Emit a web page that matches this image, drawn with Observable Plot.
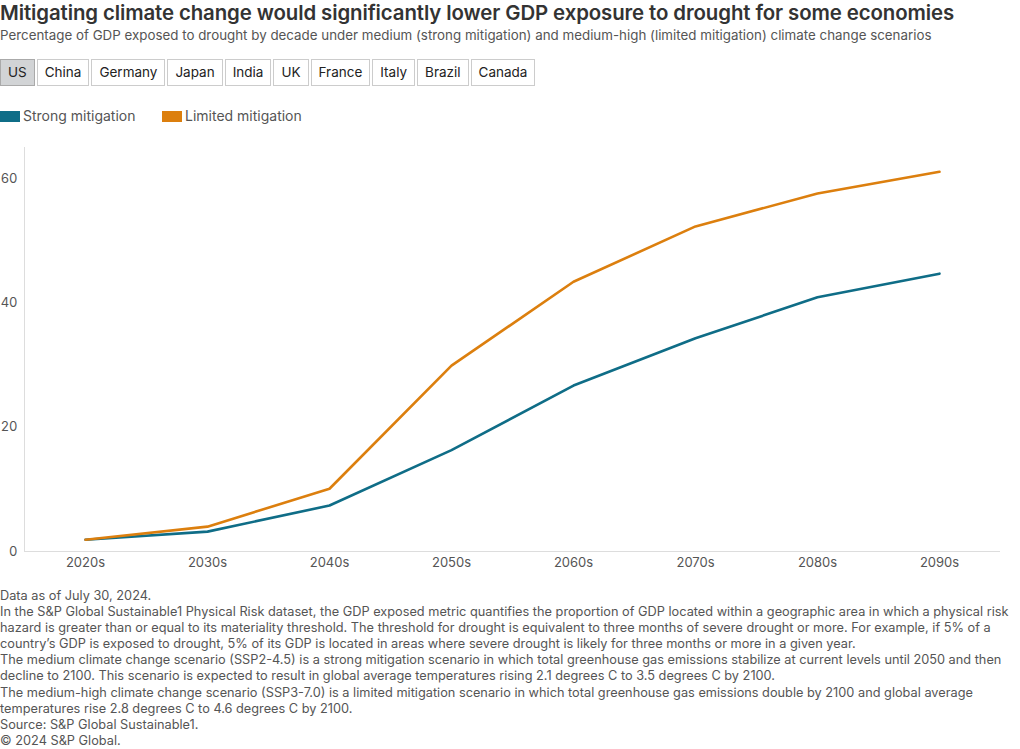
<!DOCTYPE html>
<html>
<head>
<meta charset="utf-8">
<script src="https://cdn.jsdelivr.net/npm/d3@7"></script>
<script src="https://cdn.jsdelivr.net/npm/@observablehq/plot@0.6"></script>
<style>
  html, body { margin: 0; padding: 0; background: #fff; }
  body { width: 1020px; height: 749px; position: relative; overflow: hidden; font-family: "Inter", "Roboto", sans-serif; color: #333; }
  #title { position: absolute; left: 0; top: 0; font-size: 20.4px; font-weight: 600; color: #333; white-space: nowrap; letter-spacing: -0.1px; }
  #subtitle { position: absolute; left: 0; top: 27px; font-size: 13.35px; color: #555; white-space: nowrap; }
  #buttons { position: absolute; left: 0; top: 59px; display: flex; gap: 2px; }
  #buttons div { box-sizing: border-box; height: 27px; border: 1px solid #ccc; background: #fff; font-size: 13.5px; line-height: 25px; padding: 0 7px; color: #222; }
  #buttons div.active { background: #d2d4d6; border-color: #aaa; }
  #legend { position: absolute; left: 0; top: 107px; font-size: 14px; color: #555; }
  #legend span.item { position: absolute; white-space: nowrap; }
  #legend span.sw { display: inline-block; width: 20px; height: 11px; vertical-align: -1px; margin-right: 3px; }
  #chart { position: absolute; left: 0; top: 140px; }
  #notes { position: absolute; left: 0; top: 588px; width: 1020px; font-family: "Inter", "Roboto", sans-serif; font-size: 12.75px; line-height: 16.1px; color: #555; }
  #notes div { white-space: nowrap; }
</style>
</head>
<body>
<div id="title">Mitigating climate change would significantly lower GDP exposure to drought for some economies</div>
<div id="subtitle">Percentage of GDP exposed to drought by decade under medium (strong mitigation) and medium-high (limited mitigation) climate change scenarios</div>
<div id="buttons"></div>
<div id="legend"></div>
<div id="chart"></div>
<div id="notes"></div>
<script>
const decades = ["2020s", "2030s", "2040s", "2050s", "2060s", "2070s", "2080s", "2090s"];
const strongMitigation = [1.9, 3.2, 7.4, 16.3, 26.7, 34.3, 40.9, 44.7];
const limitedMitigation = [1.9, 4.0, 10.1, 29.9, 43.4, 52.3, 57.6, 61.1];
const seriesNames = ["Strong mitigation", "Limited mitigation"];
const seriesColors = ["#0f6d87", "#dc7f0e"];
const countries = ["US", "China", "Germany", "Japan", "India", "UK", "France", "Italy", "Brazil", "Canada"];
const yTicks = [0, 20, 40, 60];
const noteLines = [
  "Data as of July 30, 2024.",
  "In the S&P Global Sustainable1 Physical Risk dataset, the GDP exposed metric quantifies the proportion of GDP located within a geographic area in which a physical risk",
  "hazard is greater than or equal to its materiality threshold. The threshold for drought is equivalent to three months of severe drought or more. For example, if 5% of a",
  "country’s GDP is exposed to drought, 5% of its GDP is located in areas where severe drought is likely for three months or more in a given year.",
  "The medium climate change scenario (SSP2-4.5) is a strong mitigation scenario in which total greenhouse gas emissions stabilize at current levels until 2050 and then",
  "decline to 2100. This scenario is expected to result in global average temperatures rising 2.1 degrees C to 3.5 degrees C by 2100.",
  "The medium-high climate change scenario (SSP3-7.0) is a limited mitigation scenario in which total greenhouse gas emissions double by 2100 and global average",
  "temperatures rise 2.8 degrees C to 4.6 degrees C by 2100.",
  "Source: S&P Global Sustainable1.",
  "© 2024 S&P Global."
];

// buttons
const btns = document.getElementById("buttons");
countries.forEach((c, i) => {
  const d = document.createElement("div");
  d.textContent = c;
  if (i === 0) d.className = "active";
  btns.appendChild(d);
});

// legend
const legend = document.getElementById("legend");
const legendX = [0, 162];
seriesNames.forEach((s, i) => {
  const it = document.createElement("span");
  it.className = "item";
  it.style.left = legendX[i] + "px";
  it.innerHTML = `<span class="sw" style="background:${seriesColors[i]}"></span>${s}`;
  legend.appendChild(it);
});

// notes
const notes = document.getElementById("notes");
noteLines.forEach(t => { const d = document.createElement("div"); d.textContent = t; notes.appendChild(d); });

// data table
const data = [];
decades.forEach((d, i) => {
  data.push({decade: d, series: seriesNames[0], value: strongMitigation[i]});
  data.push({decade: d, series: seriesNames[1], value: limitedMitigation[i]});
});

const chart = Plot.plot({
  width: 1020,
  height: 440,
  marginTop: 7,
  marginBottom: 29,
  marginLeft: 24,
  marginRight: 20,
  style: {fontFamily: "Inter, Roboto, sans-serif", fontSize: "13px", color: "#555", background: "transparent"},
  x: {type: "point", domain: decades, padding: 0.5, label: null, tickSize: 0, tickPadding: 6},
  y: {domain: [0, 65], ticks: yTicks, label: null, tickSize: 0, tickPadding: 7},
  color: {domain: seriesNames, range: seriesColors},
  marks: [
    Plot.ruleY([0], {stroke: "#ddd", strokeWidth: 1}),
    Plot.line(data, {x: "decade", y: "value", z: "series", stroke: "series", strokeWidth: 2.6, curve: "linear"})
  ]
});
document.getElementById("chart").appendChild(chart);

// left axis line along the frame
const svg = d3.select(chart);
svg.append("line")
  .attr("x1", 24.5).attr("x2", 24.5)
  .attr("y1", 7).attr("y2", 411)
  .attr("stroke", "#ddd");
svg.selectAll("text").attr("fill", "#555");
</script>
</body>
</html>
